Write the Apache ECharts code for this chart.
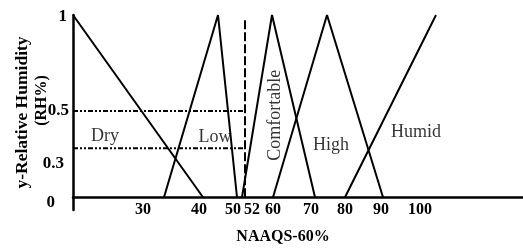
<!DOCTYPE html>
<html>
<head>
<meta charset="utf-8">
<script src="https://cdn.jsdelivr.net/npm/echarts@6/dist/echarts.min.js"></script>
<style>
  html, body { margin: 0; padding: 0; background: #fff; }
  #chart { width: 523px; height: 249px; }
</style>
</head>
<body>
<div id="chart"></div>
<script>
// x axis is a schematic one: positions are in drawn units, labels are what the figure prints
var xTickPos = [17.5, 31.5, 40, 44.75, 50, 59.5, 68, 77, 86.75]
var xTickLabels = ['30', '40', '50', '52', '60', '70', '80', '90', '100']
var yTickPos = [0.989, 0.473, 0.187, -0.027]
var yTickLabels = ['1', '0.5', '0.3', '0']

// membership functions [x, y]
var dry = [[0, 1], [32.5, 0]]
var low = [[22.75, 0], [36.25, 1], [41, 0]]
var comfortable = [[42.25, 0], [49.75, 1], [60.5, 0]]
var high = [[50, 0], [63.5, 1], [77.5, 0]]
var humid = [[68, 0], [90.75, 1]]

// reference lines
var cutVertical = [[43, 0], [43, 0.973]]
var cutHigh = [[0, 0.473], [43, 0.473]]
var cutLow = [[0, 0.269], [43, 0.269]]

// text labels
var setNames = ['Dry', 'Low', 'Comfortable', 'High', 'Humid']
var setNamePos = [[8, 0.335], [35.5, 0.33], [50.5, 0.45], [64.5, 0.286], [85.75, 0.357]]

function nearest(arr, v) {
	var best = 0
	for (var i = 1; i < arr.length; i++) {
		if (Math.abs(arr[i] - v) < Math.abs(arr[best] - v)) best = i
	}
	return best
}

var myChart = echarts.init(document.getElementById('chart'))

var serif = 'Liberation Serif'

function lineSeries(data, lineType, width) {
	return {
		type: 'line',
		data: data,
		symbol: 'none',
		clip: false,
		silent: true,
		lineStyle: { color: '#000', width: width || 2, type: lineType || 'solid' }
	}
}

var labelData = setNames.map(function(n, i) {
	return {
		name: n,
		value: setNamePos[i],
		label: { rotate: n == 'Comfortable' ? 90 : 0 }
	}
})

var option = {
	animation: false,
	grid: { left: 73, right: 0, top: 15, bottom: 39, containLabel: false, outerBoundsMode: 'none' },
	xAxis: {
		type: 'value',
		min: 0,
		max: 112.5,
		axisLine: { onZero: true, lineStyle: { color: '#000', width: 2.5 } },
		axisTick: { show: false },
		splitLine: { show: false },
		axisLabel: {
			customValues: xTickPos,
			margin: -8,
			color: '#000',
			fontFamily: serif,
			fontWeight: 'bold',
			fontSize: 16,
			formatter: function(v) { return xTickLabels[nearest(xTickPos, v)] }
		},
		name: 'NAAQS-60%',
		nameLocation: 'middle',
		nameGap: 19,
		nameMoveOverlap: false,
		nameTextStyle: { color: '#000', fontFamily: serif, fontWeight: 'bold', fontSize: 16, padding: [0, 30, 0, 0] }
	},
	yAxis: {
		type: 'value',
		min: -0.07,
		max: 1,
		axisLine: { lineStyle: { color: '#000', width: 2.5 } },
		axisTick: { show: false },
		splitLine: { show: false },
		axisLabel: {
			customValues: yTickPos,
			margin: 4,
			color: '#000',
			fontFamily: serif,
			fontWeight: 'bold',
			fontSize: 17,
			formatter: function(v) {
				var i = nearest(yTickPos, v)
				return '{p' + i + '|' + yTickLabels[i] + '}'
			},
			rich: {
				p0: { padding: [0, 2, 0, 0] },
				p1: { padding: [0, 0, 0, 0] },
				p2: { padding: [0, 5, 0, 0] },
				p3: { padding: [0, 14, 0, 0] }
			}
		},
		name: '{a|y-Relative Humidity}\n{b|(RH%)}',
		nameLocation: 'middle',
		nameGap: 21,
		nameMoveOverlap: false,
		nameTextStyle: {
			color: '#000',
			rich: {
				a: { fontFamily: serif, fontWeight: 'bold', fontSize: 17.5, color: '#000', lineHeight: 20 },
				b: { fontFamily: serif, fontWeight: 'bold', fontSize: 16, color: '#000', lineHeight: 20, padding: [0, 0, 0, 24] }
			}
		}
	},
	series: [
		lineSeries(dry),
		lineSeries(low),
		lineSeries(comfortable),
		lineSeries(high),
		lineSeries(humid),
		lineSeries(cutVertical, [9, 3], 2),
		lineSeries(cutHigh, [5, 2, 2, 2, 2, 2], 2),
		lineSeries(cutLow, [5, 2, 2, 2, 2, 2], 2),
		{
			type: 'scatter',
			data: labelData,
			symbolSize: 0,
			silent: true,
			label: {
				show: true,
				position: 'inside',
				formatter: '{b}',
				color: '#000',
				fontFamily: serif,
				fontSize: 18
			}
		}
	]
}

myChart.setOption(option)
</script>
</body>
</html>
